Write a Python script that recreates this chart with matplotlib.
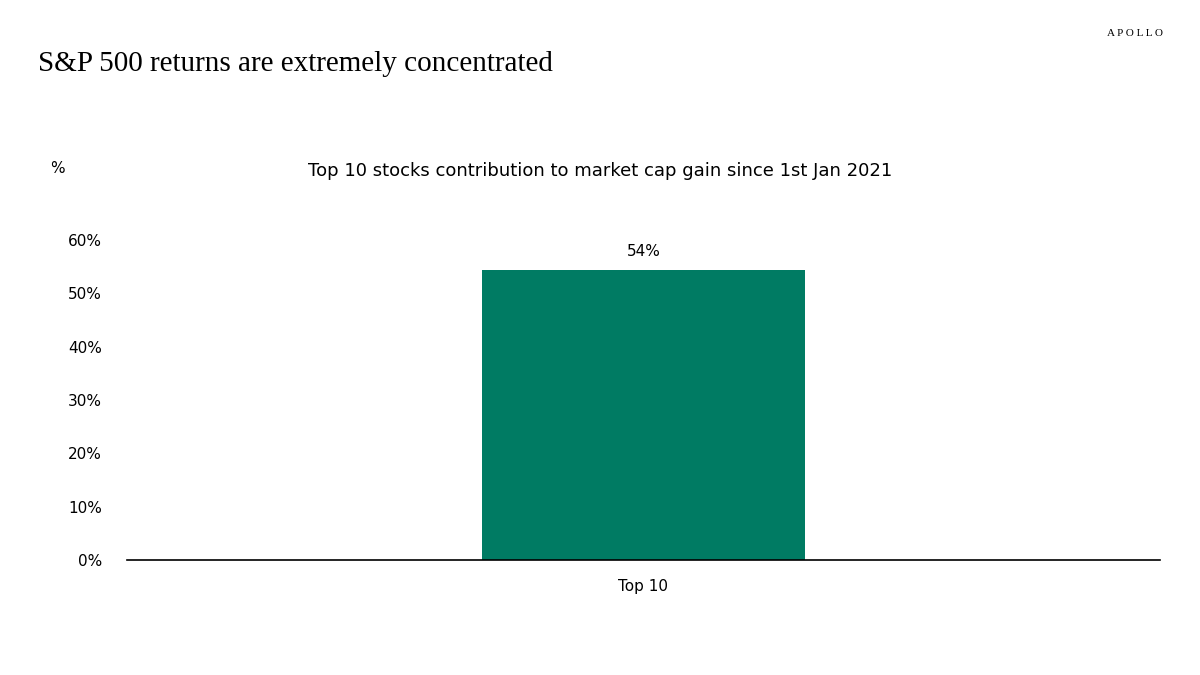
import matplotlib
matplotlib.use("Agg")
import matplotlib.pyplot as plt

categories = ["Top 10"]
values = [54.4]
yticks = [0, 10, 20, 30, 40, 50, 60]

fig = plt.figure(figsize=(12, 6.75), dpi=100)
ax = fig.add_axes([0.1058, 0.1704, 0.8609, 0.474])
bars = ax.bar(categories, values, width=0.3127, color="#007B63")
ax.set_xlim(-0.5, 0.5)
ax.set_ylim(0, 60)
ax.set_yticks(yticks)
ax.set_yticklabels([f"{t}%" for t in yticks], fontsize=11)
for b, v in zip(bars, values):
    ax.text(b.get_x() + b.get_width() / 2, v + 2, f"{round(v)}%", ha="center",
            va="bottom", fontsize=11)
for s in ["top", "right", "left"]:
    ax.spines[s].set_visible(False)
ax.spines["bottom"].set_linewidth(1.2)
ax.tick_params(axis="y", length=0, pad=18)
ax.tick_params(axis="x", length=0, labelsize=11, pad=14)

fig.text(0.032, 0.905, "S&P 500 returns are extremely concentrated",
         fontsize=21, family="Liberation Serif", va="center")
fig.text(0.969, 0.951, "A P O L L O", fontsize=8, family="Liberation Serif",
         ha="right", va="center")
fig.text(0.5, 0.747, "Top 10 stocks contribution to market cap gain since 1st Jan 2021",
         fontsize=13, ha="center", va="center")
fig.text(0.042, 0.751, "%", fontsize=11, va="center")
fig.savefig("out.png", dpi=100)
